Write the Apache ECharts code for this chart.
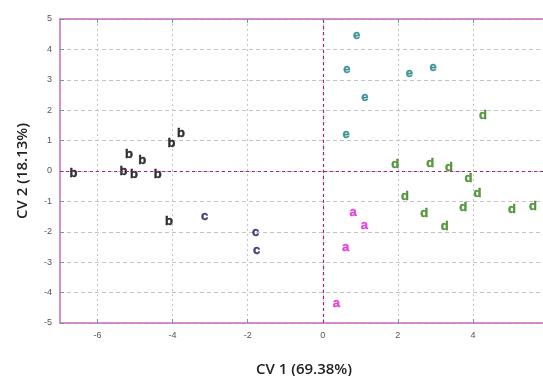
<!DOCTYPE html>
<html>
<head>
<meta charset="utf-8">
<script src="https://cdn.jsdelivr.net/npm/echarts@6/dist/echarts.min.js"></script>
<style>
  html, body { margin: 0; padding: 0; background: #fff; }
  #chart { width: 543px; height: 376px; }
</style>
</head>
<body>
<div id="chart"></div>
<script>
// canonical variate scores, one array per group (CV1, CV2)
const groupA = [[0.81, -1.35], [1.11, -1.79], [0.61, -2.53], [0.36, -4.37]];
const groupB = [[-6.64, -0.08], [-5.31, -0.03], [-5.03, -0.12], [-5.16, 0.55], [-4.81, 0.35],
  [-4.40, -0.12], [-4.03, 0.92], [-3.78, 1.24], [-4.10, -1.67]];
const groupC = [[-3.15, -1.50], [-1.79, -2.03], [-1.76, -2.60]];
const groupD = [[4.27, 1.82], [1.93, 0.21], [2.86, 0.25], [3.36, 0.11], [3.88, -0.26],
  [4.12, -0.75], [2.19, -0.85], [2.70, -1.40], [3.74, -1.21], [3.25, -1.81],
  [5.04, -1.28], [5.60, -1.17]];
const groupE = [[0.90, 4.46], [0.64, 3.35], [2.31, 3.22], [2.94, 3.41], [1.12, 2.42], [0.62, 1.19]];

const groupNames = ['a', 'b', 'c', 'd', 'e'];
const groupData = [groupA, groupB, groupC, groupD, groupE];
const groupColors = ['#dd1fd6', '#000000', '#14145e', '#2f7f12', '#157c80'];

const xTicks = [-6, -4, -2, 0, 2, 4];
const xLabel = 'CV 1 (69.38%)';
const yLabel = 'CV 2 (18.13%)';

const frameColor = '#c46cbc';
const tickColor = '#5b9db2';
const gridColor = '#c4c4c4';

const myChart = echarts.init(document.getElementById('chart'));

const series = groupNames.map((name, i) => ({
  name: name,
  type: 'scatter',
  xAxisIndex: 0,
  yAxisIndex: 0,
  symbolSize: 1,
  itemStyle: { color: 'rgba(0,0,0,0)' },
  label: {
    show: true,
    position: 'inside',
    formatter: name,
    color: groupColors[i],
    fontSize: 13,
    fontWeight: 'bold',
    fontFamily: 'Liberation Sans',
    textBorderColor: groupColors[i],
    textBorderWidth: 0.4
  },
  emphasis: { disabled: true },
  data: groupData[i]
}));

// dashed zero lines
series[0].markLine = {
  silent: true,
  symbol: ['none', 'none'],
  label: { show: false },
  lineStyle: { color: '#a8208e', type: [3, 3], width: 1.2 },
  data: [{ xAxis: 0 }, { yAxis: 0 }]
};

const option = {
  animation: false,
  grid: {
    left: 60,
    right: -5,
    top: 19,
    bottom: 53,
    outerBoundsMode: 'none'
  },
  xAxis: [{
    type: 'value',
    min: -7,
    max: 6,
    name: xLabel,
    nameLocation: 'middle',
    nameGap: 39,
    nameTextStyle: { fontSize: 15, fontWeight: 600, color: '#222', fontFamily: 'Open Sans' },
    axisLine: { onZero: false, lineStyle: { color: frameColor, width: 1.5 } },
    axisTick: { inside: true, length: 4, customValues: xTicks, lineStyle: { color: tickColor } },
    axisLabel: { customValues: xTicks, fontSize: 9, color: '#555', margin: 8 },
    splitLine: { show: true, lineStyle: { color: gridColor, type: [2, 3] } }
  }, {
    type: 'value',
    position: 'top',
    min: -7,
    max: 6,
    axisLine: { onZero: false, lineStyle: { color: frameColor, width: 1.5 } },
    axisTick: { inside: true, length: 4, customValues: xTicks, lineStyle: { color: tickColor } },
    axisLabel: { show: false },
    splitLine: { show: false }
  }],
  yAxis: {
    type: 'value',
    min: -5,
    max: 5,
    interval: 1,
    name: yLabel,
    nameLocation: 'middle',
    nameGap: 30,
    nameTextStyle: { fontSize: 15, fontWeight: 600, color: '#222', fontFamily: 'Open Sans' },
    axisLine: { onZero: false, lineStyle: { color: frameColor, width: 1.5 } },
    axisTick: { inside: true, length: 4, lineStyle: { color: tickColor } },
    axisLabel: { fontSize: 9, color: '#555', margin: 8 },
    splitLine: { show: true, lineStyle: { color: gridColor, type: [4, 3] } }
  },
  series: series
};

myChart.setOption(option);
</script>
</body>
</html>
